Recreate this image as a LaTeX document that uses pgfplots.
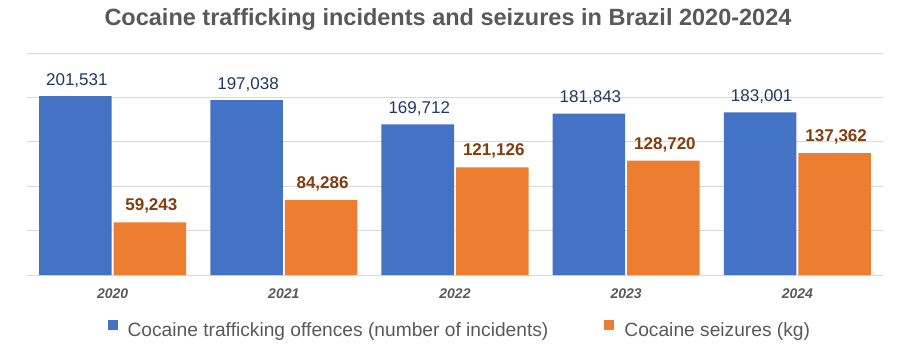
\documentclass[border=0pt]{standalone}
\usepackage{fontspec}
\setmainfont{Liberation Sans}
\usepackage{pgfplots}
\usepackage{pgfplotstable}
\pgfplotsset{compat=1.18}
\definecolor{cblue}{HTML}{4472C4}
\definecolor{corange}{HTML}{ED7D31}
\definecolor{lblue}{HTML}{203864}
\definecolor{lorange}{HTML}{843C0C}
\definecolor{tgray}{HTML}{595959}
\definecolor{gridc}{HTML}{D9D9D9}
\pgfplotstableread{
x inc inclab sei seilab
0 201531 201,531 59243 59,243
1 197038 197,038 84286 84,286
2 169712 169,712 121126 121,126
3 181843 181,843 128720 128,720
4 183001 183,001 137362 137,362
}\data
\begin{document}
\begin{tikzpicture}[x=1pt,y=1pt]
\useasboundingbox (0,0) rectangle (897,343);
\node[font=\fontsize{23.5}{28}\selectfont\bfseries, text=tgray] at (448,324) {Cocaine trafficking incidents and seizures in Brazil 2020-2024};
\begin{axis}[
  at={(27pt,68pt)}, anchor=south west,
  scale only axis, width=856pt, height=222pt,
  xmin=-0.5, xmax=4.5, ymin=0, ymax=250000,
  ytick={0,50000,100000,150000,200000,250000}, yticklabels={},
  scaled y ticks=false,
  ymajorgrids, grid style={draw=gridc, line width=0.9pt},
  axis line style={draw=none},
  major tick length=0pt,
  xtick={0,1,2,3,4}, xticklabels={2020,2021,2022,2023,2024},
  xticklabel style={font=\fontsize{14}{16}\selectfont\bfseries\itshape, text=tgray, anchor=base, inner sep=0pt, yshift=-23.5pt},
  legend style={at={(axis description cs:0.5045,-0.243)}, anchor=center, draw=none, fill=none,
    font=\fontsize{19.2}{22}\selectfont, nodes={inner sep=0pt, text=tgray},
    /tikz/every odd column/.append style={column sep=10pt},
    /tikz/every even column/.append style={column sep=56pt}},
  legend columns=2,
  legend image code/.code={\fill[#1] (0pt,1pt) rectangle (10pt,11pt);},
]
\addplot[ybar, fill=cblue, draw=none, bar width=0.4235, bar shift=-0.2176,
  nodes near coords, point meta=explicit symbolic,
  nodes near coords style={font=\fontsize{17}{20}\selectfont, text=lblue, anchor=base, inner sep=0pt, xshift=-35.75pt, yshift=11pt}]
  table[x=x, y=inc, meta=inclab] {\data};
\addlegendentry{Cocaine trafficking offences (number of incidents)}
\addplot[ybar, fill=corange, draw=none, bar width=0.4235, bar shift=0.2176,
  nodes near coords, point meta=explicit symbolic,
  nodes near coords style={font=\fontsize{17}{20}\selectfont\bfseries, text=lorange, anchor=base, inner sep=0pt, xshift=38.75pt, yshift=11.5pt}]
  table[x=x, y=sei, meta=seilab] {\data};
\addlegendentry{Cocaine seizures (kg)}
\end{axis}
\end{tikzpicture}
\end{document}
